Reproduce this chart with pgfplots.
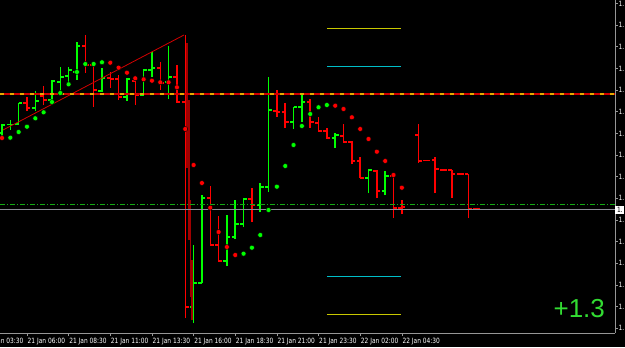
\documentclass[border=0pt]{standalone}
\usepackage{fontspec}
\setmainfont{DejaVu Sans}
\newfontfamily\lblfont[FakeStretch=0.82]{DejaVu Sans}
\newfontfamily\bigfont{Liberation Sans}
\usepackage{pgfplots}
\usepackage{pgfplotstable}
\pgfplotsset{compat=1.18}
\definecolor{bull}{RGB}{0,255,0}
\definecolor{bear}{RGB}{255,0,0}
\definecolor{darkbear}{RGB}{160,0,0}
\definecolor{framegray}{RGB}{150,150,150}
\definecolor{bidgray}{RGB}{140,140,150}
\definecolor{lvlred}{RGB}{210,0,0}
\definecolor{lvlorange}{RGB}{230,170,0}
\definecolor{lvlgreen}{RGB}{20,170,20}
\definecolor{lvlyellow}{RGB}{200,200,0}
\definecolor{lvlcyan}{RGB}{0,190,200}
\definecolor{biggreen}{RGB}{50,220,50}
\newcommand{\lbl}{\lblfont\fontsize{7.2bp}{8bp}\selectfont}

% OHLC bars, values are pixel rows of the price (smaller = higher price)
\pgfplotstableread{
i o h l c
0 133 124 137 125
1 124.5 120 130 124.5
2 124 103 124 103
4 108 91 111 101
6 100 80 104 81
7 82 67 93 77
8 76 67 84 70
9 72 42 80 46
12 91 68 92 78
15 97 78 101 79
17 95 69 96 70
18 70 52 77 68
20 82 46 99 77
23 307 245 323 283
24 283 195 283 198
27 261 215 266 237
28 237 200 239 224
29 224 198 227 199
31 205 183 212 187
32 187 77 192 110
35 122 107 129 107
36 107 93 122 102
40 138 133 148 135
44 178 169 193 170
46 191 171 195 176
}\bulls

\pgfplotstableread{
i o h l c
3 103 97 111 108
5 96 86 105 100
10 46 35 73 65
11 65 63 107 90
13 78 72 88 79
14 79 75 100 97
16 81 81 105 95
19 68 62 90 83
21 77 65 103 102
22 102 35 318 307
25 198 186 246 245
26 245 216 262 261
30 199 188 222 205
33 111 90 117 112
34 112 103 128 122
37 102 99 128 122
38 123 117 132 131
39 131 128 139 138
41 136 124 143 142
42 142 141 164 161
43 161 157 178 178
45 171 170 198 191
47 176 174 218 208
48 208 200 214 207
50 135 124 163 161
51 160.5 160.5 160.5 160.5
52 160 157 193 169
53 170 170 170 170
54 170 170 198 174
55 174 174 174 174
56 174 174 218 209
57 209 209 209 209
}\bears

\pgfplotstableread{
i h l
22.23 43 168
22.43 100 240
22.63 200 297
22.83 260 320
}\shadow

\pgfplotstableread{
i p
0 138
13 62.7
14 67.7
15 72.7
16 78.3
17 79.3
18 80.7
19 82.3
20 82.3
21 87.3
22 129
23 165
24 183
25 207.7
26 232
27 247
28 255
40 105.7
41 109
42 117.3
43 129
44 139
45 151.7
46 161
47 175
48 187.7
}\sarred

\pgfplotstableread{
i p
1 137.7
2 132
3 126.7
4 118.3
5 112.3
6 102
7 93
8 84.3
9 72
10 64
11 64
12 62.3
29 253.7
30 247.7
31 235
32 210
33 186.7
34 166
35 145
36 126
37 114
38 107.3
39 105
}\sargreen

\pgfplotsset{
  hl/.style={#1, line width=1.5bp, mark=none, forget plot, quiver={u=0, v=\thisrow{l}-\thisrow{h}}, -},
  op/.style={#1, line width=1.2bp, mark=none, forget plot, quiver={u=-0.42, v=0}, -},
  cl/.style={#1, line width=1.2bp, mark=none, forget plot, quiver={u=0.42, v=0}, -},
}

\begin{document}
\begin{tikzpicture}[x=1bp,y=1bp]
\useasboundingbox (0,0) rectangle (625,347);
\fill[black] (0,0) rectangle (625,347);
\begin{axis}[
  at={(0,14)}, anchor=south west,
  scale only axis, width=615bp, height=333bp,
  xmin=-0.24, xmax=73.59, ymin=0, ymax=333,
  clip=false,
  axis x line*=bottom, axis y line*=right,
  axis line style={framegray, line width=0.8bp},
  tick align=outside, major tick length=3bp,
  tick style={framegray, line width=0.6bp},
  xtick={3,8,13,18,23,28,33,38,43,48},
  xticklabels={21 Jan 06:00,21 Jan 08:30,21 Jan 11:00,21 Jan 13:30,21 Jan 16:00,21 Jan 18:30,21 Jan 21:00,21 Jan 23:30,22 Jan 02:00,22 Jan 04:30},
  xticklabel style={anchor=north west, font=\lbl, text=white, inner sep=0pt, xshift=0.5bp, yshift=-1.5bp},
  ytick={4.67,26.33,...,330},
  yticklabel={1.},
  yticklabel style={anchor=west, font=\lbl, text=white, inner sep=0pt, xshift=0.3bp},
]
% bars
\addplot[hl=bull] table[x=i, y expr={333-\thisrow{l}}] {\bulls};
\addplot[op=bull] table[x=i, y expr={333-\thisrow{o}}] {\bulls};
\addplot[cl=bull] table[x=i, y expr={333-\thisrow{c}}] {\bulls};
\addplot[hl=bear] table[x=i, y expr={333-\thisrow{l}}] {\bears};
\addplot[op=bear] table[x=i, y expr={333-\thisrow{o}}] {\bears};
\addplot[cl=bear] table[x=i, y expr={333-\thisrow{c}}] {\bears};
\addplot[hl=darkbear] table[x=i, y expr={333-\thisrow{l}}] {\shadow};
% trend line
\addplot[lvlred, line width=0.8bp, forget plot] coordinates {(0.12,203) (21.85,298)};
% levels
\addplot[lvlred, line width=1.1bp, forget plot] coordinates {(-0.24,239) (73.59,239)};
\addplot[lvlorange, line width=1.1bp, dash pattern=on 4bp off 6bp, forget plot] coordinates {(-0.24,239) (73.59,239)};
\addplot[bidgray, line width=0.9bp, forget plot] coordinates {(-0.24,124) (73.59,124)};
\addplot[lvlgreen, line width=0.9bp, dash pattern=on 5bp off 2bp on 1bp off 2bp, forget plot] coordinates {(-0.24,129) (73.59,129)};
\addplot[lvlyellow, line width=0.9bp, forget plot] coordinates {(39.0,305) (47.9,305)};
\addplot[lvlyellow, line width=0.9bp, forget plot] coordinates {(39.0,19) (47.9,19)};
\addplot[lvlcyan, line width=0.9bp, forget plot] coordinates {(39.0,267) (47.9,267)};
\addplot[lvlcyan, line width=0.9bp, forget plot] coordinates {(39.0,57) (47.9,57)};
% parabolic SAR
\addplot[only marks, mark=*, mark size=2.5bp, mark options={draw=none, fill=bear}, forget plot] table[x=i, y expr={333-\thisrow{p}}] {\sarred};
\addplot[only marks, mark=*, mark size=2.5bp, mark options={draw=none, fill=bull}, forget plot] table[x=i, y expr={333-\thisrow{p}}] {\sargreen};
% texts
\node[anchor=north west, font=\lbl, text=white, inner sep=0pt, xshift=0.5bp, yshift=-4.5bp] at (axis cs:-2,0) {21 Jan 03:30};
\node[anchor=west, fill=white, text=black, font=\lbl, inner xsep=0.8bp, inner ysep=1bp, minimum height=8bp, minimum width=9bp] at (axis cs:73.62,123.5) {1.};
\node[anchor=base east, font=\bigfont\fontsize{26bp}{30bp}\selectfont, text=biggreen, inner sep=0pt] at (axis cs:72.4,16) {+1.3};
\end{axis}
\end{tikzpicture}
\end{document}
